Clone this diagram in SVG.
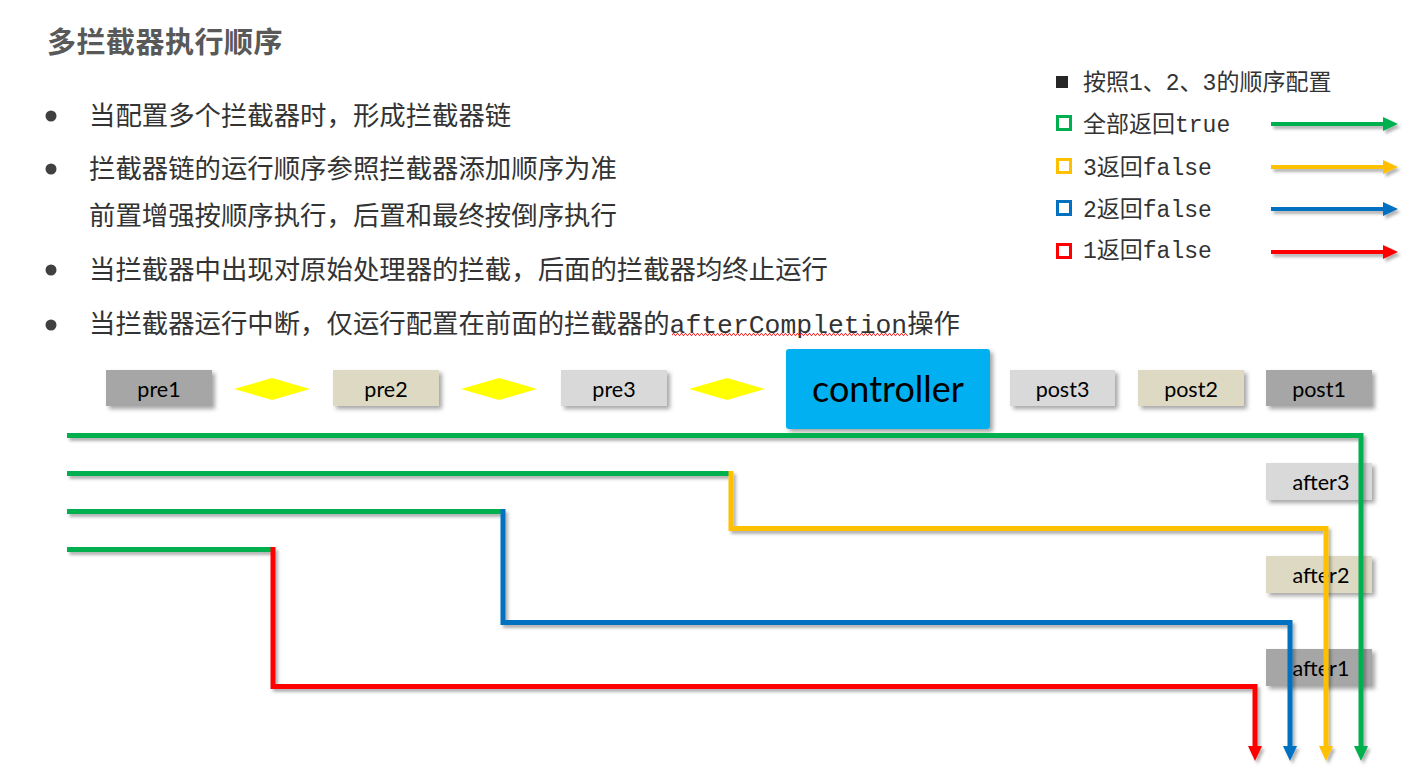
<svg xmlns="http://www.w3.org/2000/svg" width="1421" height="772" viewBox="0 0 1421 772">
<defs>
<style>
.title{font-family:"Noto Sans CJK SC","Noto Sans",sans-serif;font-weight:bold;font-size:29px;fill:#595959;letter-spacing:0.5px}
.bul{font-family:"Noto Sans CJK SC","Noto Sans",sans-serif;font-size:26.4px;fill:#333333}
.mono{font-family:"Liberation Mono","Noto Sans CJK SC",monospace}
.leg{font-family:"Liberation Mono","Noto Sans CJK SC",monospace;font-size:23px;fill:#333333}
.lbl{font-family:Lato,"Open Sans",sans-serif;font-size:21.5px;fill:#000000;text-anchor:middle}
.big{font-family:Lato,"Open Sans",sans-serif;font-size:36px;fill:#000000;text-anchor:middle}
.g1{fill:#A6A6A6}
.g2{fill:#DDD9C3}
.g3{fill:#D9D9D9}
.dia{fill:#FFFF00}
.ln{fill:none;stroke-width:5;stroke-linejoin:miter;stroke-linecap:butt}
.lg{fill:none;stroke-width:4}
</style>
<filter id="sh" x="-10%" y="-10%" width="130%" height="140%">
<feDropShadow dx="3" dy="3" stdDeviation="2" flood-color="#000000" flood-opacity="0.35"/>
</filter>
<filter id="lsh" filterUnits="userSpaceOnUse" x="0" y="0" width="1421" height="772">
<feDropShadow dx="2.5" dy="3" stdDeviation="1.5" flood-color="#000000" flood-opacity="0.3"/>
</filter>
<marker id="aG" viewBox="0 0 15 14" refX="1" refY="7" markerWidth="15" markerHeight="14" markerUnits="userSpaceOnUse" orient="auto"><path d="M0,0 L15,7 L0,14 z" fill="#00B050"/></marker>
<marker id="aY" viewBox="0 0 15 14" refX="1" refY="7" markerWidth="15" markerHeight="14" markerUnits="userSpaceOnUse" orient="auto"><path d="M0,0 L15,7 L0,14 z" fill="#FFC000"/></marker>
<marker id="aB" viewBox="0 0 15 14" refX="1" refY="7" markerWidth="15" markerHeight="14" markerUnits="userSpaceOnUse" orient="auto"><path d="M0,0 L15,7 L0,14 z" fill="#0070C0"/></marker>
<marker id="aR" viewBox="0 0 15 14" refX="1" refY="7" markerWidth="15" markerHeight="14" markerUnits="userSpaceOnUse" orient="auto"><path d="M0,0 L15,7 L0,14 z" fill="#FF0000"/></marker>
<pattern id="wave" x="0" y="333" width="4" height="3" patternUnits="userSpaceOnUse"><path d="M0,2.5 L1,0.5 L2,0.5 L3,2.5 L4,2.5" fill="none" stroke="#FF0000" stroke-width="0.8"/></pattern>
</defs>
<rect width="1421" height="772" fill="#FFFFFF"/>

<g id="header">
<text class="title" x="47" y="53">多拦截器执行顺序</text>
<g fill="#404040">
<circle cx="51" cy="116" r="5.5"/>
<circle cx="51" cy="169" r="5.5"/>
<circle cx="51" cy="270" r="5.5"/>
<circle cx="51" cy="325" r="5.5"/>
</g>
<text class="bul" x="89" y="125">当配置多个拦截器时，形成拦截器链</text>
<text class="bul" x="89" y="178">拦截器链的运行顺序参照拦截器添加顺序为准</text>
<text class="bul" x="89" y="225">前置增强按顺序执行，后置和最终按倒序执行</text>
<text class="bul" x="89" y="279">当拦截器中出现对原始处理器的拦截，后面的拦截器均终止运行</text>
<text class="bul" x="89" y="333">当拦截器运行中断，仅运行配置在前面的拦截器的<tspan class="mono">afterCompletion</tspan>操作</text>
<rect x="672" y="333" width="236" height="3" fill="url(#wave)"/>
</g>

<g id="legend">
<rect x="1056" y="76" width="12" height="12" fill="#262626"/>
<text class="leg" x="1083" y="90">按照1、2、3的顺序配置</text>
<rect x="1057.5" y="116.5" width="13" height="13" fill="none" stroke="#00B050" stroke-width="3"/>
<text class="leg" x="1083" y="132">全部返回true</text>
<rect x="1057.5" y="159.5" width="13" height="13" fill="none" stroke="#FFC000" stroke-width="3"/>
<text class="leg" x="1083" y="175">3返回false</text>
<rect x="1057.5" y="201.5" width="13" height="13" fill="none" stroke="#0070C0" stroke-width="3"/>
<text class="leg" x="1083" y="217">2返回false</text>
<rect x="1057.5" y="244.5" width="13" height="13" fill="none" stroke="#FF0000" stroke-width="3"/>
<text class="leg" x="1083" y="258">1返回false</text>
<g filter="url(#lsh)">
<line class="lg" x1="1271" y1="124" x2="1384" y2="124" stroke="#00B050" marker-end="url(#aG)"/>
<line class="lg" x1="1271" y1="167" x2="1384" y2="167" stroke="#FFC000" marker-end="url(#aY)"/>
<line class="lg" x1="1271" y1="209" x2="1384" y2="209" stroke="#0070C0" marker-end="url(#aB)"/>
<line class="lg" x1="1271" y1="252" x2="1384" y2="252" stroke="#FF0000" marker-end="url(#aR)"/>
</g>
</g>

<g id="pre1"><rect class="g1" x="106" y="370" width="106" height="36" filter="url(#sh)"/><text class="lbl" x="159" y="396.5">pre1</text></g>
<g id="d1"><polygon class="dia" points="234,389 272,378 310,389 272,400"/></g>
<g id="pre2"><rect class="g2" x="333" y="370" width="106" height="36" filter="url(#sh)"/><text class="lbl" x="386" y="396.5">pre2</text></g>
<g id="d2"><polygon class="dia" points="461,389 499,378 537,389 499,400"/></g>
<g id="pre3"><rect class="g3" x="561" y="370" width="106" height="36" filter="url(#sh)"/><text class="lbl" x="614" y="396.5">pre3</text></g>
<g id="d3"><polygon class="dia" points="689,389 727,378 765,389 727,400"/></g>
<g id="controller"><rect x="786" y="349" width="204" height="80" rx="3" fill="#00B0F0" filter="url(#sh)"/><text class="big" x="888" y="402">controller</text></g>
<g id="post3"><rect class="g3" x="1010" y="370" width="105" height="36" filter="url(#sh)"/><text class="lbl" x="1062.5" y="396.5">post3</text></g>
<g id="post2"><rect class="g2" x="1138" y="370" width="106" height="36" filter="url(#sh)"/><text class="lbl" x="1191" y="396.5">post2</text></g>
<g id="post1"><rect class="g1" x="1266" y="370" width="106" height="36" filter="url(#sh)"/><text class="lbl" x="1319" y="396.5">post1</text></g>
<g id="after3"><rect class="g3" x="1266" y="463" width="106" height="37" filter="url(#sh)"/><text class="lbl" x="1321" y="489.5">after3</text></g>
<g id="after2"><rect class="g2" x="1266" y="556" width="106" height="37" filter="url(#sh)"/><text class="lbl" x="1321" y="582.5">after2</text></g>
<g id="after1"><rect class="g1" x="1266" y="649" width="106" height="37" filter="url(#sh)"/><text class="lbl" x="1321" y="675.5">after1</text></g>

<g id="connectors" filter="url(#lsh)">
<path class="ln" stroke="#00B050" d="M67,435.5 H1361 V747" marker-end="url(#aG)"/>
<path class="ln" stroke="#00B050" d="M67,473.5 H731"/>
<path class="ln" stroke="#FFC000" d="M731,471 V528.5 H1326 V747" marker-end="url(#aY)"/>
<path class="ln" stroke="#00B050" d="M67,511.5 H503"/>
<path class="ln" stroke="#0070C0" d="M503,509 V622.5 H1290 V747" marker-end="url(#aB)"/>
<path class="ln" stroke="#00B050" d="M67,549.5 H273"/>
<path class="ln" stroke="#FF0000" d="M273,547 V686.5 H1255 V747" marker-end="url(#aR)"/>
</g>
</svg>
